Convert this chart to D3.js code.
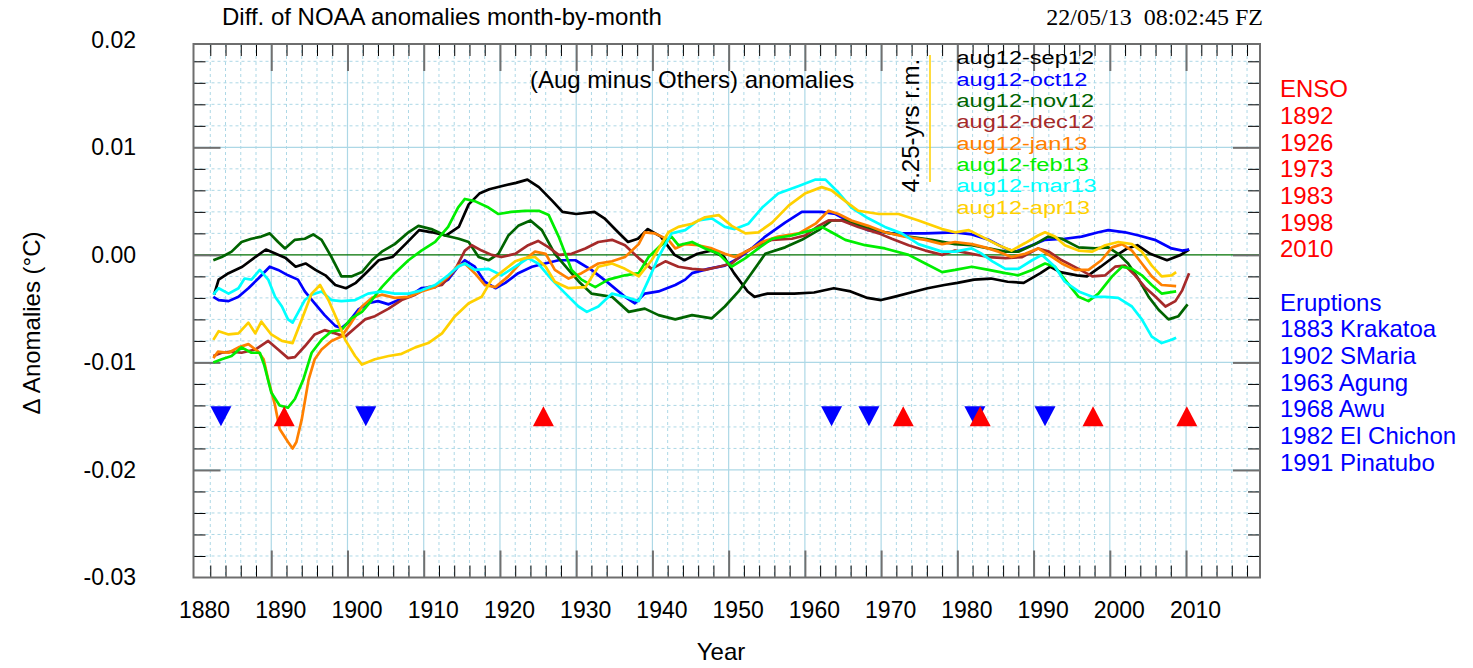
<!DOCTYPE html>
<html><head><meta charset="utf-8">
<script src="https://cdn.jsdelivr.net/npm/d3@7/dist/d3.min.js"></script>
<style>
body{margin:0;background:#fff}
text{font-family:"Liberation Sans",Arial,Helvetica,sans-serif}
</style></head>
<body><svg id="chart" width="1473" height="668"></svg>
<script>
// ---------------- data ----------------
const sep12 = [[1882.5,-.0037],[1883.1,-.0023],[1884.4,-.0017],[1886.2,-.0011],[1887.9,-.0002],[1889.3,.0005],[1890.6,.0001],[1891.9,-.0003],[1893.2,-.0011],[1894.5,-.0008],[1895.8,-.0014],[1897.1,-.0019],[1898.4,-.0028],[1899.8,-.0031],[1901.1,-.0026],[1902.4,-.0017],[1904.1,-.0005],[1905.9,-.0002],[1907.6,.0010],[1909.4,.0023],[1911.1,.0021],[1912.9,.0018],[1914.6,.0026],[1915.9,.0047],[1917.3,.0057],[1918.6,.0061],[1920.3,.0064],[1922.1,.0067],[1923.6,.0070],[1925.1,.0063],[1926.9,.0050],[1928.2,.0040],[1930.0,.0038],[1932.4,.0040],[1933.7,.0034],[1935.5,.0021],[1936.8,.0012],[1938.1,.0015],[1939.4,.0024],[1941.1,.0017],[1942.9,.0000],[1944.2,-.0005],[1945.9,.0001],[1947.7,.0004],[1949.4,-.0002],[1950.7,-.0017],[1952.5,-.0034],[1953.4,-.0039],[1955.1,-.0036],[1958.6,-.0036],[1961.2,-.0035],[1963.8,-.0031],[1966.0,-.0034],[1968.2,-.0040],[1970.0,-.0042],[1971.7,-.0039],[1973.9,-.0035],[1976.1,-.0031],[1978.3,-.0028],[1980.0,-.0026],[1982.2,-.0023],[1984.4,-.0022],[1986.6,-.0025],[1988.7,-.0026],[1990.9,-.0017],[1992.2,-.0011],[1993.5,-.0016],[1995.7,-.0019],[1997.0,-.0020],[1998.8,-.0011],[2000.5,-.0002],[2002.3,.0006],[2003.6,.0009],[2005.3,.0001],[2007.5,-.0005],[2009.3,.0000],[2010.4,.0005]];
const oct12 = [[1882.4,-.0039],[1883.1,-.0042],[1884.4,-.0043],[1885.7,-.0039],[1887.0,-.0031],[1888.3,-.0022],[1889.8,-.0011],[1890.9,-.0014],[1892.2,-.0019],[1893.5,-.0023],[1894.4,-.0034],[1895.7,-.0045],[1897.0,-.0056],[1898.4,-.0066],[1899.2,-.0068],[1900.1,-.0063],[1901.4,-.0051],[1902.7,-.0045],[1904.0,-.0043],[1905.4,-.0046],[1906.7,-.0042],[1908.0,-.0039],[1909.7,-.0031],[1911.5,-.0030],[1913.2,-.0023],[1914.5,-.0011],[1915.4,-.0005],[1916.7,-.0011],[1918.0,-.0025],[1919.4,-.0031],[1920.7,-.0026],[1922.4,-.0017],[1924.2,-.0011],[1925.9,-.0008],[1927.7,-.0005],[1929.9,-.0005],[1932.0,-.0014],[1934.2,-.0026],[1936.4,-.0039],[1937.7,-.0045],[1939.0,-.0036],[1940.8,-.0034],[1943.0,-.0028],[1944.3,-.0023],[1945.2,-.0017],[1947.3,-.0013],[1949.5,-.0010],[1951.3,-.0003],[1953.0,.0006],[1954.8,.0017],[1957.4,.0030],[1959.6,.0040],[1962.2,.0040],[1964.0,.0038],[1966.1,.0030],[1968.3,.0023],[1971.4,.0020],[1975.8,.0020],[1979.7,.0021],[1981.9,.0019],[1984.1,.0014],[1986.3,.0006],[1987.6,.0003],[1989.8,.0009],[1991.5,.0014],[1994.1,.0015],[1996.3,.0017],[1998.5,.0021],[1999.8,.0023],[2002.0,.0021],[2003.8,.0018],[2005.9,.0014],[2008.1,.0006],[2009.5,.0004],[2010.4,.0005]];
const nov12 = [[1882.4,-.0005],[1883.5,-.0002],[1884.8,.0003],[1886.1,.0012],[1887.4,.0015],[1888.7,.0017],[1889.8,.0020],[1890.9,.0012],[1891.8,.0006],[1893.1,.0014],[1894.4,.0015],[1895.5,.0019],[1896.6,.0014],[1897.9,-.0002],[1899.2,-.0020],[1900.5,-.0020],[1901.9,-.0016],[1903.2,-.0005],[1904.5,.0003],[1906.2,.0010],[1908.0,.0021],[1909.3,.0027],[1911.0,.0024],[1912.8,.0018],[1914.6,.0015],[1915.9,.0012],[1917.2,-.0002],[1918.5,-.0005],[1919.8,.0001],[1921.1,.0018],[1922.4,.0027],[1924.0,.0032],[1925.5,.0023],[1927.2,.0001],[1929.0,-.0014],[1930.5,-.0026],[1932.0,-.0036],[1934.7,-.0039],[1936.9,-.0053],[1939.0,-.0050],[1940.8,-.0056],[1943.0,-.0060],[1945.2,-.0056],[1947.8,-.0059],[1949.5,-.0048],[1951.3,-.0034],[1953.0,-.0017],[1954.8,.0001],[1957.4,.0007],[1959.6,.0014],[1961.8,.0023],[1963.5,.0032],[1965.3,.0032],[1967.9,.0026],[1970.5,.0021],[1973.6,.0017],[1976.6,.0014],[1979.7,.0010],[1981.9,.0009],[1984.1,.0006],[1986.3,.0003],[1988.0,.0003],[1990.2,.0010],[1991.9,.0017],[1993.7,.0015],[1995.9,.0007],[1998.1,.0006],[1999.8,.0007],[2001.1,.0001],[2002.4,-.0008],[2003.8,-.0023],[2005.1,-.0039],[2006.4,-.0051],[2007.7,-.0060],[2009.0,-.0057],[2010.2,-.0046]];
const dec12 = [[1882.4,-.0094],[1883.5,-.0091],[1884.8,-.0090],[1886.1,-.0091],[1887.9,-.0088],[1889.6,-.0080],[1890.9,-.0088],[1892.2,-.0096],[1893.1,-.0095],[1894.4,-.0085],[1895.7,-.0074],[1897.0,-.0070],[1898.4,-.0073],[1899.7,-.0076],[1901.0,-.0068],[1902.3,-.0060],[1903.6,-.0057],[1905.4,-.0050],[1907.1,-.0042],[1908.9,-.0037],[1910.6,-.0030],[1912.4,-.0028],[1914.1,-.0014],[1915.4,.0004],[1916.3,.0009],[1917.6,.0004],[1918.9,.0000],[1920.2,-.0002],[1922.0,.0001],[1923.7,.0009],[1925.0,.0013],[1926.4,.0007],[1927.7,.0000],[1929.4,.0001],[1931.2,.0006],[1932.9,.0012],[1934.7,.0014],[1936.4,.0009],[1938.2,-.0003],[1939.9,-.0013],[1941.7,-.0006],[1943.4,-.0011],[1945.2,-.0013],[1946.9,-.0014],[1948.7,-.0011],[1950.4,-.0008],[1952.2,.0003],[1953.9,.0009],[1955.7,.0014],[1958.3,.0015],[1960.0,.0018],[1961.8,.0027],[1963.1,.0032],[1964.8,.0032],[1967.0,.0026],[1969.7,.0020],[1971.4,.0015],[1973.6,.0009],[1975.8,.0004],[1978.0,.0000],[1979.7,.0004],[1981.9,.0001],[1984.1,-.0002],[1986.3,-.0003],[1988.5,-.0002],[1990.6,.0006],[1992.0,.0003],[1993.7,-.0005],[1995.9,-.0013],[1997.7,-.0020],[1999.4,-.0019],[2000.7,-.0011],[2002.0,-.0010],[2003.3,-.0019],[2004.6,-.0030],[2006.0,-.0039],[2007.3,-.0048],[2008.6,-.0043],[2009.5,-.0033],[2010.4,-.0017]];
const jan13 = [[1882.4,-.0096],[1883.0,-.0090],[1884.4,-.0091],[1885.7,-.0086],[1887.0,-.0083],[1888.3,-.0090],[1889.0,-.0097],[1889.6,-.0116],[1890.5,-.0140],[1891.1,-.0162],[1892.2,-.0174],[1892.8,-.0180],[1893.3,-.0174],[1894.0,-.0153],[1894.9,-.0116],[1895.7,-.0097],[1896.6,-.0088],[1897.9,-.0080],[1899.2,-.0076],[1900.5,-.0063],[1901.9,-.0048],[1903.2,-.0040],[1904.5,-.0037],[1906.2,-.0040],[1908.0,-.0039],[1909.7,-.0034],[1911.5,-.0030],[1913.2,-.0020],[1914.5,-.0010],[1915.4,-.0008],[1916.7,-.0017],[1918.0,-.0028],[1919.4,-.0030],[1921.1,-.0020],[1922.9,-.0006],[1924.6,.0003],[1926.0,.0001],[1927.2,-.0014],[1929.0,-.0022],[1930.7,-.0017],[1932.9,-.0008],[1934.7,-.0006],[1936.4,-.0002],[1938.2,.0010],[1939.0,.0021],[1940.3,.0020],[1942.1,.0014],[1943.0,.0006],[1944.3,.0010],[1946.0,.0009],[1947.8,.0006],[1949.5,.0001],[1950.8,-.0002],[1952.6,.0004],[1954.4,.0012],[1956.5,.0017],[1959.2,.0020],[1961.4,.0029],[1963.1,.0041],[1964.4,.0038],[1966.1,.0032],[1968.3,.0027],[1970.5,.0021],[1973.1,.0017],[1975.8,.0014],[1978.0,.0010],[1979.7,.0012],[1981.9,.0010],[1983.6,.0007],[1985.4,.0003],[1987.1,-.0002],[1988.9,.0001],[1990.6,.0006],[1992.0,.0000],[1993.7,-.0008],[1995.5,-.0014],[1997.2,-.0014],[1998.9,-.0005],[2000.3,.0007],[2001.6,.0010],[2002.9,.0004],[2004.2,-.0008],[2005.5,-.0020],[2006.8,-.0028],[2008.7,-.0029]];
const feb13 = [[1882.4,-.0100],[1883.5,-.0097],[1884.8,-.0094],[1886.1,-.0086],[1887.4,-.0091],[1888.5,-.0091],[1889.1,-.0103],[1890.0,-.0128],[1891.1,-.0140],[1892.2,-.0142],[1893.1,-.0134],[1894.2,-.0116],[1895.3,-.0091],[1896.6,-.0079],[1897.9,-.0071],[1899.2,-.0070],[1900.5,-.0059],[1901.9,-.0053],[1903.2,-.0042],[1904.5,-.0030],[1906.2,-.0017],[1908.0,-.0005],[1909.7,.0004],[1911.5,.0012],[1913.2,.0026],[1914.5,.0044],[1915.4,.0052],[1916.7,.0050],[1918.5,.0044],[1919.8,.0038],[1921.5,.0040],[1923.3,.0041],[1925.1,.0041],[1926.4,.0037],[1927.7,.0017],[1929.4,-.0014],[1930.7,-.0023],[1932.5,-.0030],[1934.2,-.0023],[1936.4,-.0019],[1938.2,-.0017],[1939.5,-.0002],[1940.8,.0007],[1942.5,.0017],[1943.4,.0009],[1945.2,.0012],[1946.9,.0006],[1948.7,.0001],[1950.4,-.0011],[1952.2,-.0003],[1953.9,.0006],[1955.7,.0015],[1958.3,.0018],[1960.9,.0023],[1962.2,.0026],[1963.5,.0021],[1965.3,.0014],[1967.9,.0009],[1970.5,.0006],[1973.6,.0000],[1975.8,-.0008],[1978.0,-.0016],[1979.7,-.0014],[1981.9,-.0011],[1984.1,-.0014],[1986.3,-.0017],[1988.0,-.0019],[1989.8,-.0014],[1991.5,-.0008],[1992.8,-.0011],[1994.1,-.0023],[1995.9,-.0039],[1997.2,-.0043],[1998.5,-.0036],[2000.3,-.0020],[2001.6,-.0011],[2002.9,-.0013],[2004.2,-.0019],[2005.5,-.0028],[2006.8,-.0036],[2008.7,-.0034]];
const mar13 = [[1882.4,-.0037],[1883.1,-.0031],[1884.4,-.0036],[1885.7,-.0031],[1886.5,-.0022],[1887.4,-.0023],[1888.5,-.0014],[1889.6,-.0023],[1890.5,-.0039],[1891.4,-.0048],[1892.2,-.0060],[1892.8,-.0063],[1893.5,-.0054],[1894.4,-.0042],[1895.3,-.0037],[1896.6,-.0034],[1897.9,-.0042],[1899.2,-.0043],[1901.0,-.0042],[1902.7,-.0036],[1904.5,-.0034],[1906.2,-.0036],[1908.0,-.0036],[1909.7,-.0033],[1911.5,-.0028],[1913.2,-.0019],[1914.5,-.0011],[1915.4,-.0008],[1916.7,-.0014],[1918.5,-.0013],[1920.2,-.0019],[1922.0,-.0011],[1923.7,-.0003],[1925.0,-.0008],[1926.8,-.0023],[1928.6,-.0036],[1930.3,-.0048],[1931.4,-.0053],[1932.9,-.0048],[1934.7,-.0036],[1936.4,-.0039],[1938.2,-.0043],[1939.5,-.0023],[1940.8,-.0002],[1942.5,.0020],[1944.3,.0023],[1946.0,.0032],[1947.8,.0034],[1949.5,.0026],[1950.8,.0024],[1952.6,.0029],[1954.4,.0044],[1956.5,.0057],[1959.2,.0064],[1961.4,.0070],[1962.7,.0070],[1964.4,.0058],[1966.1,.0044],[1968.3,.0034],[1970.5,.0026],[1972.7,.0020],[1974.9,.0010],[1978.0,.0003],[1979.7,.0003],[1981.9,.0006],[1983.2,.0001],[1984.6,-.0006],[1986.3,-.0013],[1988.0,-.0013],[1989.8,-.0005],[1991.1,.0000],[1992.8,-.0011],[1994.1,-.0025],[1995.9,-.0034],[1997.7,-.0039],[1999.4,-.0039],[2001.1,-.0040],[2002.9,-.0048],[2004.2,-.0060],[2005.5,-.0076],[2006.8,-.0082],[2008.1,-.0079],[2008.7,-.0077]];
const apr13 = [[1882.4,-.0079],[1883.1,-.0071],[1884.4,-.0074],[1885.7,-.0073],[1887.0,-.0063],[1887.9,-.0073],[1888.7,-.0062],[1890.0,-.0074],[1891.4,-.0080],[1892.8,-.0082],[1894.0,-.0060],[1895.3,-.0036],[1896.4,-.0028],[1897.5,-.0042],[1898.8,-.0063],[1899.7,-.0079],[1901.0,-.0094],[1901.9,-.0102],[1903.6,-.0097],[1905.4,-.0094],[1907.1,-.0092],[1908.9,-.0086],[1910.6,-.0082],[1912.4,-.0073],[1914.1,-.0057],[1915.9,-.0045],[1917.6,-.0039],[1918.9,-.0023],[1920.2,-.0016],[1922.0,-.0006],[1923.3,-.0003],[1924.6,-.0002],[1926.0,-.0011],[1927.2,-.0025],[1929.0,-.0031],[1931.2,-.0030],[1932.9,-.0011],[1934.7,-.0008],[1936.4,-.0013],[1938.2,-.0020],[1939.9,-.0005],[1942.1,.0021],[1943.4,.0026],[1945.2,.0029],[1946.9,.0035],[1948.7,.0037],[1950.4,.0027],[1952.2,.0020],[1953.9,.0021],[1955.7,.0030],[1957.9,.0046],[1960.0,.0057],[1962.2,.0063],[1963.5,.0060],[1965.3,.0050],[1967.0,.0041],[1969.7,.0038],[1972.3,.0038],[1974.9,.0032],[1978.0,.0024],[1979.7,.0021],[1981.5,.0023],[1983.2,.0017],[1985.4,.0009],[1987.1,.0004],[1988.9,.0011],[1990.6,.0018],[1991.5,.0021],[1992.8,.0017],[1994.1,.0009],[1995.9,.0004],[1997.7,.0003],[1999.4,.0009],[2001.1,.0012],[2002.9,.0010],[2004.2,.0003],[2005.5,-.0010],[2006.8,-.0020],[2008.1,-.0019],[2008.7,-.0016]];

const seriesNames  = ["aug12-sep12","aug12-oct12","aug12-nov12","aug12-dec12","aug12-jan13","aug12-feb13","aug12-mar13","aug12-apr13"];
const seriesColors = ["#000000","#0000ff","#006400","#a52a2a","#ff8000","#00ee00","#00ffff","#ffd000"];
const seriesData   = [sep12, oct12, nov12, dec12, jan13, feb13, mar13, apr13];

const xTickYears  = [1880,1890,1900,1910,1920,1930,1940,1950,1960,1970,1980,1990,2000,2010];
const yTickValues = [0.02,0.01,0.00,-0.01,-0.02,-0.03];
const yTickLabels = ["0.02","0.01","0.00","-0.01","-0.02","-0.03"];

const ensoLabels     = ["ENSO","1892","1926","1973","1983","1998","2010"];
const ensoMarkerYear = [1891.7,1925.7,1972.9,1983.0,1997.8,2010.1];
const eruptLabels    = ["Eruptions","1883 Krakatoa","1902 SMaria","1963 Agung","1968 Awu","1982 El Chichon","1991 Pinatubo"];
const eruptMarkerYear= [1883.4,1902.4,1963.5,1968.4,1982.3,1991.5];
const markerLevel    = -0.015;

// ---------------- layout ----------------
const L = 193.5, R = 1260, T = 44, B = 577.5;
const svg = d3.select("#chart");
const x = d3.scaleLinear().domain([1879.8, 2019.7]).range([L, R]);
const y = d3.scaleLinear().domain([-0.03, 0.02]).range([B, 39.8]);

const grid = svg.append("g");
const xMinor = d3.range(1882, 2019, 2).filter(v => v % 10 !== 0);
const xMajor = d3.range(1890, 2019, 10);
const yMinorI = d3.range(-14, 10).filter(i => i % 5 !== 0);
const yMajor = [-0.02, -0.01, 0.01];

grid.selectAll(".vm").data(xMinor).join("line")
  .attr("x1", d => x(d)).attr("x2", d => x(d)).attr("y1", T).attr("y2", B)
  .attr("stroke", "#add8e6").attr("stroke-width", 1).attr("stroke-dasharray", "3,3");
grid.selectAll(".vM").data(xMajor).join("line")
  .attr("x1", d => x(d)).attr("x2", d => x(d)).attr("y1", T).attr("y2", B)
  .attr("stroke", "#add8e6").attr("stroke-width", 1.2);
grid.selectAll(".hm").data(yMinorI).join("line")
  .attr("x1", L).attr("x2", R).attr("y1", d => y(d * 0.002)).attr("y2", d => y(d * 0.002))
  .attr("stroke", "#add8e6").attr("stroke-width", 1).attr("stroke-dasharray", "3,3");
grid.selectAll(".hM").data(yMajor).join("line")
  .attr("x1", L).attr("x2", R).attr("y1", d => y(d)).attr("y2", d => y(d))
  .attr("stroke", "#add8e6").attr("stroke-width", 1.2);
// zero line
svg.append("line").attr("x1", L).attr("x2", R).attr("y1", y(0)).attr("y2", y(0))
  .attr("stroke", "#007000").attr("stroke-width", 1.3);

// ticks via axes
function tickAxis(axis, tx, ty, color, w) {
  const g = svg.append("g").attr("transform", `translate(${tx},${ty})`).call(axis);
  g.select(".domain").remove();
  g.selectAll("text").remove();
  g.selectAll("line").attr("stroke", color).attr("stroke-width", w);
}
const yMinorVals = yMinorI.map(i => i * 0.002);
const yMajorVals = [-0.02, -0.01, 0, 0.01];
tickAxis(d3.axisBottom(x).tickValues(xMinor).tickSize(12), 0, T, "#000", 1);
tickAxis(d3.axisBottom(x).tickValues(xMajor).tickSize(27), 0, T, "#707070", 2);
tickAxis(d3.axisTop(x).tickValues(xMinor).tickSize(12), 0, B, "#000", 1);
tickAxis(d3.axisTop(x).tickValues(xMajor).tickSize(27), 0, B, "#707070", 2);
tickAxis(d3.axisRight(y).tickValues(yMinorVals).tickSize(12), L, 0, "#000", 1);
tickAxis(d3.axisRight(y).tickValues(yMajorVals).tickSize(27), L, 0, "#707070", 2);
tickAxis(d3.axisLeft(y).tickValues(yMinorVals).tickSize(12), R, 0, "#000", 1);
tickAxis(d3.axisLeft(y).tickValues(yMajorVals).tickSize(27), R, 0, "#707070", 2);

// series lines
svg.append("clipPath").attr("id", "clip").append("rect")
  .attr("x", L).attr("y", T).attr("width", R - L).attr("height", B - T);
const line = d3.line().x(d => x(d[0])).y(d => y(d[1]));
svg.append("g").attr("clip-path", "url(#clip)")
  .selectAll("path").data(seriesData).join("path")
  .attr("d", line).attr("fill", "none")
  .attr("stroke", (d, i) => seriesColors[i]).attr("stroke-width", 2.7)
  .attr("stroke-linejoin", "round");

// markers
const cy = y(markerLevel);
svg.append("g").selectAll("path").data(eruptMarkerYear).join("path")
  .attr("d", d => { const cx = x(d); return `M${cx-10.5},${cy-10}L${cx+10.5},${cy-10}L${cx},${cy+10}Z`; })
  .attr("fill", "#0000ff");
svg.append("g").selectAll("path").data(ensoMarkerYear).join("path")
  .attr("d", d => { const cx = x(d); return `M${cx-10.5},${cy+10}L${cx+10.5},${cy+10}L${cx},${cy-10}Z`; })
  .attr("fill", "#ff0000");

// frame
svg.append("rect").attr("x", L).attr("y", T).attr("width", R - L).attr("height", B - T)
  .attr("fill", "none").attr("stroke", "#6e6e6e").attr("stroke-width", 2);

// tick labels via axes
const yLab = svg.append("g").attr("transform", `translate(${L},0)`)
  .call(d3.axisLeft(y).tickValues(yTickValues).tickSize(0).tickPadding(57.5)
        .tickFormat((d, i) => yTickLabels[i]));
yLab.select(".domain").remove();
yLab.selectAll("text").attr("font-size", 23).attr("fill", "#000")
  .attr("font-family", "Liberation Sans, Arial, sans-serif");

const xLab = svg.append("g").attr("transform", `translate(0,${B})`)
  .call(d3.axisBottom(x).tickValues(xTickYears).tickSize(0).tickPadding(24).tickFormat(d3.format("d")));
xLab.select(".domain").remove();
xLab.selectAll("text").attr("font-size", 23).attr("fill", "#000").attr("dx", 9)
  .attr("font-family", "Liberation Sans, Arial, sans-serif");

// titles
svg.append("text").attr("x", 222).attr("y", 25).attr("font-size", 24).text("Diff. of NOAA anomalies month-by-month");
svg.append("text").attr("x", 1263).attr("y", 25).attr("text-anchor", "end")
  .style("font-family", "'Liberation Serif','Times New Roman',serif").style("white-space", "pre")
  .attr("font-size", 24).text("22/05/13  08:02:45 FZ");
svg.append("text").attr("x", 530).attr("y", 88).attr("font-size", 24).text("(Aug minus Others) anomalies");
svg.append("text").attr("transform", "translate(919,125.5) rotate(-90)").attr("text-anchor", "middle")
  .attr("font-size", 24).text("4.25-yrs r.m.");
svg.append("line").attr("x1", 930).attr("x2", 930).attr("y1", 55).attr("y2", 182)
  .attr("stroke", "#ffd000").attr("stroke-width", 1.5);
svg.append("text").attr("transform", "translate(40,323) rotate(-90)").attr("text-anchor", "middle")
  .attr("font-size", 24).text("\u0394 Anomalies (\u00B0C)");
svg.append("text").attr("x", 721).attr("y", 660).attr("text-anchor", "middle")
  .attr("font-size", 24).text("Year");

// legend: tight rows as in the reference, glyphs widened to the reference width
svg.append("g").attr("transform", "translate(956.5,0) scale(1.24,1)")
  .selectAll("text").data(seriesNames).join("text")
  .attr("x", 0).attr("y", (d, i) => 64.5 + i * 21.3)
  .attr("font-size", 19).attr("fill", (d, i) => seriesColors[i]).text(d => d);

// right annotations
svg.append("g").selectAll("text").data(ensoLabels).join("text")
  .attr("x", 1280).attr("y", (d, i) => 97.3 + i * 26.67)
  .attr("font-size", 24).attr("fill", "#ff0000").text(d => d);
svg.append("g").selectAll("text").data(eruptLabels).join("text")
  .attr("x", 1280).attr("y", (d, i) => 310.7 + i * 26.67)
  .attr("font-size", 24).attr("fill", "#0000ff").text(d => d);
</script></body></html>
